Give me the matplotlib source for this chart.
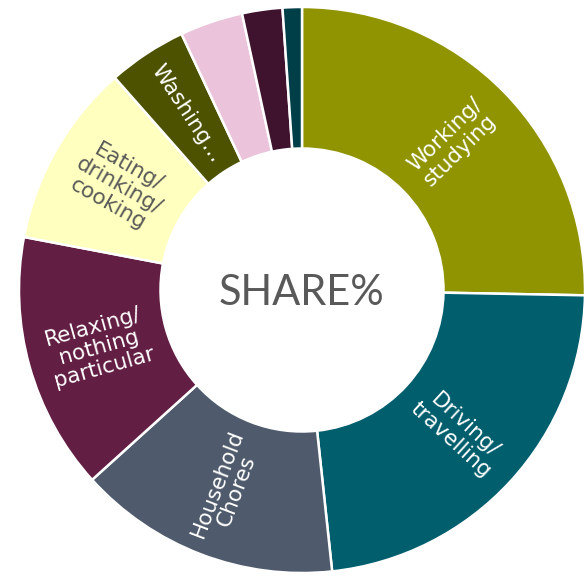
import numpy as np
import matplotlib.pyplot as plt

labels = ["Working/\nstudying", "Driving/\ntravelling", "Household\nChores",
          "Relaxing/\nnothing\nparticular", "Eating/\ndrinking/\ncooking",
          "Washing…", "", "", ""]
shares = [25.3, 23.0, 15.0, 14.7, 10.5, 4.5, 3.6, 2.3, 1.1]
colors = ["#8f9400", "#005e6d", "#4f5b6c", "#621e43", "#ffffbf",
          "#4d5200", "#ebc4db", "#3f132d", "#003e48"]
text_colors = ["white", "white", "white", "white", "#595959",
               "white", "white", "white", "white"]

plt.rcParams['font.family'] = ['Lato', 'DejaVu Sans']

fig = plt.figure(figsize=(5.87, 5.76), dpi=100)
ax = fig.add_axes([0, 0, 1, 1])

wedges, _ = ax.pie(shares, colors=colors, startangle=90, counterclock=False,
                   radius=1.0,
                   wedgeprops=dict(width=0.5, edgecolor="white", linewidth=1.8))

for w, lab, tc in zip(wedges, labels, text_colors):
    if not lab:
        continue
    mid = (w.theta1 + w.theta2) / 2.0
    r = 0.745
    x = r * np.cos(np.radians(mid))
    y = r * np.sin(np.radians(mid))
    rot = mid
    if np.cos(np.radians(mid)) < 0:
        rot = mid + 180
    ax.text(x, y, lab, ha="center", va="center", rotation=rot,
            rotation_mode="anchor", color=tc, fontsize=15.5, linespacing=1.05,
            family=["DejaVu Sans"])

ax.text(0, -0.01, "SHARE%", ha="center", va="center", fontsize=30, color="#595959")

ax.set_xlim(-302 / 283, 285 / 283)
ax.set_ylim(-286 / 283, 290 / 283)
ax.set_aspect("auto")
ax.axis("off")

fig.savefig("out.png", dpi=100, facecolor="white")
